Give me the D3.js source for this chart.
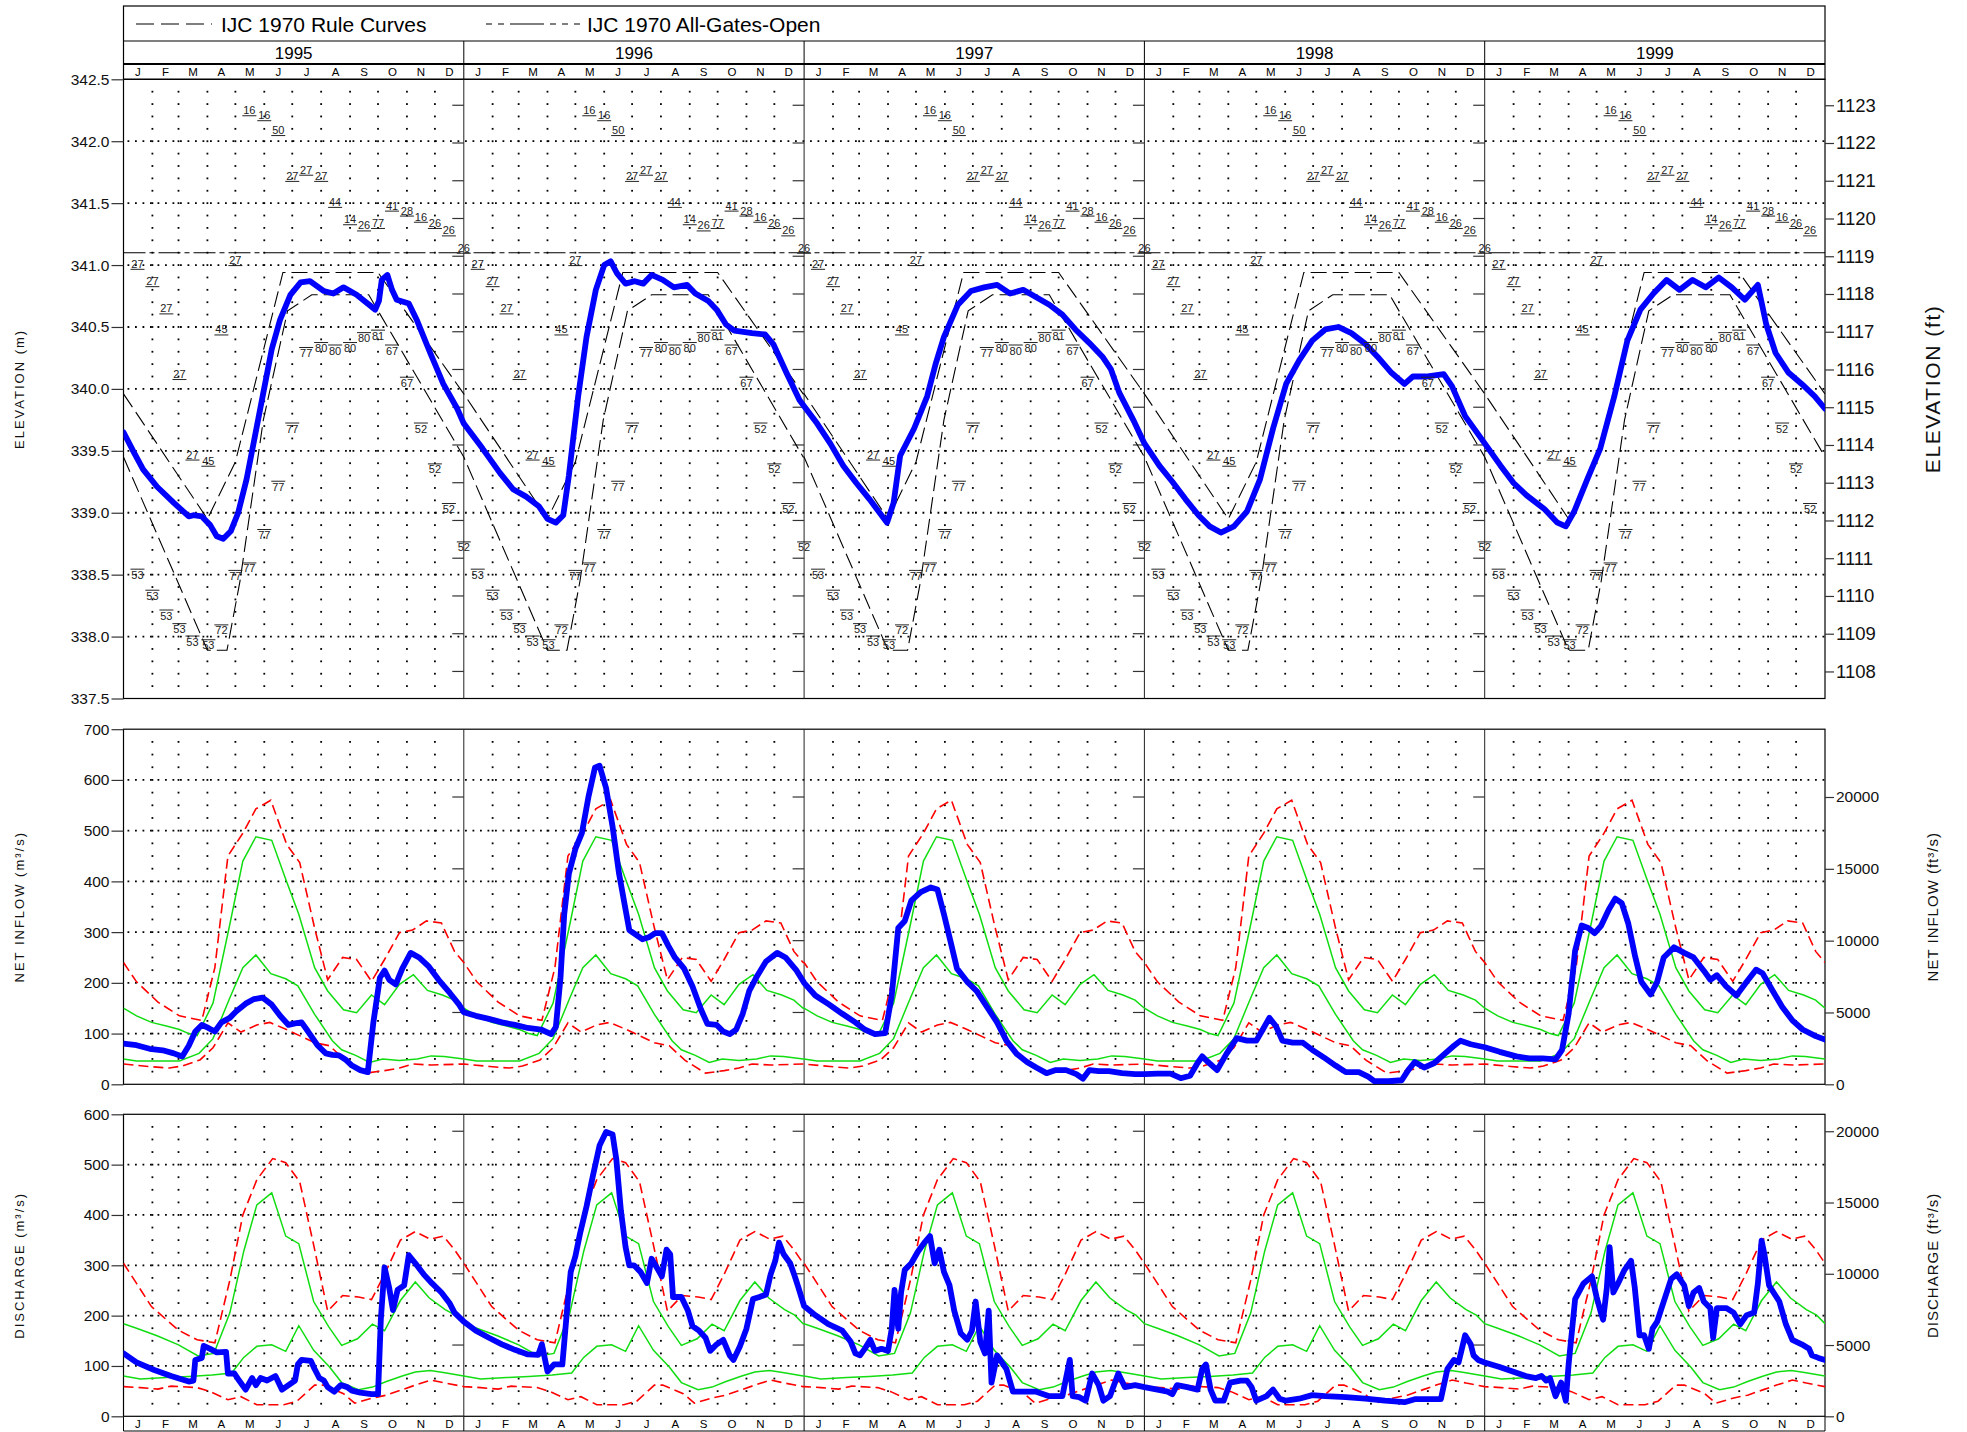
<!DOCTYPE html>
<html>
<head>
<meta charset="utf-8">
<script src="https://cdn.jsdelivr.net/npm/d3@7"></script>
<style>
  body { margin: 0; background: #fff; }
  svg { display: block; font-family: "Liberation Sans", Arial, sans-serif; }
</style>
</head>
<body>
<svg id="chart" width="1967" height="1432"></svg>
<script>
// ---- categories / ticks ----
var years = [1995, 1996, 1997, 1998, 1999];
var monthLetters = ["J", "F", "M", "A", "M", "J", "J", "A", "S", "O", "N", "D"];
var monthStartDays = [0, 31, 59, 90, 120, 151, 181, 212, 243, 273, 304, 334, 365];
var elevTicksM = d3.range(337.5, 342.51, 0.5);
var elevTicksFt = d3.range(1108, 1124);
var inflowTicks = d3.range(0, 701, 100);
var dischargeTicks = d3.range(0, 601, 100);
var cfsTicks = [0, 5000, 10000, 15000, 20000];

// ---- IJC 1970 curves (day of year, elevation m), same every year ----
var ruleUpper = [[0, 339.96], [90, 338.95], [120, 339.41], [171, 340.94], [273, 340.94], [365, 339.96]];
var ruleLower = [[0, 339.45], [90, 337.89], [111, 337.89], [125, 338.45], [150, 339.75], [176, 340.63], [202, 340.76], [263, 340.76], [365, 339.45]];
var allGatesOpen = [[0, 341.1], [365, 341.1]];

// ---- historic extremes (label centre elevation, year of record) ----
var recDays = [0, 15, 31, 46, 60, 74, 91, 105, 120, 135, 151, 166, 181, 196, 212, 227, 243, 258, 273, 288, 304, 319, 334, 349];
var recMaxYear = ["26", "27", "27", "27", "27", "27", "45", "45", "27", "16", "16", "50", "27", "27", "27", "44", "14", "26", "77", "41", "28", "16", "26", "26"];
var recMaxVal = [341.14, 341.01, 340.87, 340.65, 340.12, 339.47, 339.42, 340.48, 341.04, 342.25, 342.21, 342.09, 341.72, 341.77, 341.72, 341.51, 341.37, 341.32, 341.34, 341.48, 341.44, 341.39, 341.34, 341.28];
var recMinYear = ["52", "53", "53", "53", "53", "53", "53", "72", "77", "77", "77", "77", "77", "77", "80", "80", "80", "80", "81", "67", "67", "52", "52", "52"];
var recMinVal = [338.72, 338.50, 338.33, 338.17, 338.06, 337.96, 337.93, 338.05, 338.49, 338.55, 338.82, 339.21, 339.68, 340.29, 340.33, 340.31, 340.33, 340.41, 340.43, 340.31, 340.05, 339.68, 339.35, 339.03];

// ---- reference flow envelopes (day, m3/s), same every year ----
var inflowRedHi = [[0, 240], [14, 202], [37, 162], [60, 135], [84, 126], [98, 230], [112, 450], [128, 495], [142, 543], [158, 560], [175, 473], [189, 437], [205, 308], [219, 206], [235, 250], [250, 246], [266, 203], [280, 246], [296, 299], [310, 304], [325, 322], [341, 318], [355, 262], [365, 240]];
var inflowRedLo = [[0, 40], [28, 35], [49, 32], [63, 36], [82, 48], [96, 72], [112, 121], [126, 103], [143, 117], [157, 122], [176, 107], [190, 95], [205, 82], [221, 76], [238, 47], [260, 22], [280, 27], [296, 32], [310, 40], [330, 38], [365, 40]];
var inflowGreenHi = [[0, 150], [14, 135], [30, 122], [46, 115], [60, 108], [70, 100], [79, 96], [96, 160], [114, 315], [128, 440], [142, 488], [159, 481], [174, 404], [188, 335], [205, 230], [219, 184], [236, 147], [250, 141], [266, 176], [280, 157], [296, 197], [311, 216], [326, 185], [342, 176], [355, 166], [365, 150]];
var inflowGreenLo = [[0, 50], [14, 46], [35, 46], [60, 46], [81, 61], [96, 90], [114, 170], [128, 230], [142, 255], [158, 218], [174, 208], [187, 194], [205, 138], [224, 86], [234, 68], [249, 57], [264, 43], [278, 50], [296, 47], [315, 50], [330, 56], [344, 55], [365, 50]];
var outRedHi = [[0, 304], [14, 264], [30, 218], [59, 171], [79, 152], [98, 146], [114, 270], [128, 400], [143, 470], [160, 512], [174, 504], [189, 466], [204, 340], [219, 209], [235, 240], [252, 237], [266, 232], [280, 282], [297, 350], [313, 367], [329, 352], [343, 358], [355, 331], [365, 304]];
var outRedLo = [[0, 59], [18, 57], [37, 54], [51, 60], [79, 57], [93, 49], [112, 33], [126, 39], [143, 23], [172, 23], [186, 30], [205, 62], [214, 62], [236, 45], [248, 26], [266, 36], [282, 42], [299, 53], [313, 62], [330, 72], [345, 66], [365, 59]];
var outGreenHi = [[0, 184], [14, 175], [36, 160], [59, 142], [80, 120], [97, 125], [114, 205], [129, 328], [143, 420], [159, 444], [174, 358], [188, 343], [204, 228], [220, 178], [234, 141], [251, 154], [267, 183], [280, 170], [297, 230], [313, 267], [328, 235], [345, 212], [356, 201], [365, 184]];
var outGreenLo = [[0, 80], [18, 74], [46, 77], [70, 79], [95, 82], [116, 86], [129, 117], [143, 139], [159, 142], [174, 129], [188, 180], [204, 131], [221, 98], [234, 67], [252, 53], [267, 58], [282, 69], [299, 80], [313, 88], [329, 91], [343, 87], [365, 80]];

// ---- observed elevation (day, m) ----
var elev1995 = [[0, 339.65], [11, 339.49], [21, 339.35], [36, 339.21], [54, 339.08], [70, 338.97], [75, 338.98], [84, 338.97], [93, 338.90], [100, 338.81], [107, 338.79], [115, 338.85], [123, 339.00], [132, 339.27], [141, 339.62], [150, 339.97], [159, 340.32], [168, 340.56], [179, 340.76], [190, 340.86], [200, 340.87], [215, 340.79], [225, 340.77], [236, 340.82], [250, 340.76], [270, 340.64], [274, 340.71], [277, 340.88], [283, 340.92], [288, 340.80], [293, 340.72], [306, 340.69], [315, 340.55], [329, 340.29], [343, 340.04], [358, 339.84]];
var elev1996 = [[0, 339.72], [20, 339.52], [39, 339.32], [53, 339.19], [67, 339.13], [81, 339.05], [90, 338.95], [99, 338.92], [107, 338.98], [113, 339.30], [123, 339.94], [132, 340.42], [142, 340.80], [151, 341.00], [158, 341.03], [165, 340.93], [174, 340.85], [184, 340.87], [193, 340.85], [202, 340.92], [214, 340.88], [226, 340.82], [240, 340.84], [249, 340.77], [263, 340.71], [272, 340.64], [282, 340.52], [291, 340.47], [310, 340.45], [324, 340.44], [333, 340.36], [347, 340.13], [361, 339.91]];
var elev1997 = [[0, 339.86], [14, 339.72], [28, 339.56], [42, 339.38], [56, 339.24], [70, 339.11], [80, 339.01], [89, 338.92], [96, 339.08], [103, 339.46], [118, 339.68], [132, 339.94], [141, 340.20], [150, 340.42], [165, 340.68], [179, 340.79], [193, 340.82], [207, 340.84], [221, 340.77], [235, 340.80], [249, 340.74], [263, 340.68], [277, 340.60], [291, 340.48], [306, 340.37], [320, 340.26], [329, 340.16], [338, 339.97], [353, 339.75]];
var elev1998 = [[0, 339.56], [16, 339.38], [30, 339.25], [44, 339.11], [58, 338.98], [70, 338.89], [82, 338.84], [96, 338.89], [110, 339.01], [124, 339.27], [138, 339.68], [152, 340.04], [166, 340.23], [180, 340.39], [194, 340.48], [208, 340.50], [222, 340.45], [236, 340.37], [250, 340.26], [265, 340.13], [279, 340.04], [288, 340.10], [302, 340.10], [321, 340.12], [330, 340.02], [344, 339.78]];
var elev1999 = [[0, 339.56], [17, 339.38], [31, 339.24], [45, 339.14], [64, 339.03], [78, 338.92], [87, 338.89], [96, 339.01], [110, 339.27], [124, 339.52], [139, 339.94], [153, 340.39], [167, 340.64], [181, 340.77], [195, 340.88], [209, 340.80], [223, 340.88], [237, 340.82], [251, 340.90], [265, 340.82], [279, 340.72], [293, 340.84], [302, 340.52], [312, 340.29], [326, 340.13], [340, 340.04], [354, 339.94], [365, 339.84]];

// ---- observed net inflow (day, m3/s) ----
var inflow1995 = [[0, 80], [14, 77], [28, 70], [42, 67], [54, 61], [63, 55], [70, 76], [77, 104], [84, 117], [91, 111], [98, 104], [105, 122], [114, 131], [121, 144], [131, 159], [140, 168], [149, 171], [159, 157], [168, 135], [177, 117], [184, 120], [191, 122], [198, 104], [208, 77], [217, 61], [224, 58], [231, 57], [238, 49], [245, 37], [254, 28], [262, 24], [268, 122], [275, 210], [280, 224], [285, 206], [292, 197], [299, 228], [308, 259], [317, 250], [327, 233], [338, 206], [350, 180], [360, 157]];
var inflow1996 = [[0, 142], [13, 135], [27, 129], [41, 122], [55, 117], [69, 111], [83, 108], [94, 99], [99, 113], [104, 210], [108, 335], [113, 415], [120, 464], [127, 495], [134, 566], [141, 624], [146, 628], [153, 584], [160, 508], [167, 415], [174, 344], [178, 304], [185, 295], [192, 286], [199, 290], [206, 298], [213, 298], [220, 273], [227, 250], [237, 228], [246, 193], [255, 148], [262, 119], [272, 117], [279, 104], [286, 99], [293, 108], [300, 139], [307, 184], [316, 215], [325, 242], [337, 259], [346, 250], [358, 224]];
var inflow1997 = [[0, 200], [12, 175], [27, 157], [41, 139], [55, 122], [65, 108], [76, 99], [87, 101], [94, 175], [101, 308], [108, 322], [115, 362], [125, 379], [136, 388], [143, 384], [150, 335], [157, 282], [164, 228], [175, 202], [185, 184], [196, 153], [207, 122], [217, 86], [228, 60], [239, 44], [249, 33], [260, 22], [270, 28], [281, 28], [292, 20], [299, 11], [306, 28], [316, 26], [327, 26], [341, 22], [355, 20]];
var inflow1998 = [[0, 20], [14, 21], [28, 21], [39, 12], [49, 17], [57, 42], [62, 55], [67, 46], [78, 28], [88, 60], [99, 91], [110, 86], [120, 86], [127, 108], [134, 131], [141, 115], [148, 86], [159, 82], [170, 82], [180, 68], [194, 51], [205, 37], [216, 24], [230, 24], [240, 15], [247, 6], [262, 6], [276, 8], [283, 28], [290, 44], [300, 33], [311, 42], [322, 60], [332, 76], [339, 86], [350, 79]];
var inflow1999 = [[0, 73], [16, 64], [34, 55], [48, 51], [62, 51], [76, 49], [83, 68], [90, 139], [97, 264], [104, 313], [111, 308], [118, 298], [125, 313], [133, 344], [140, 366], [147, 357], [154, 317], [161, 255], [168, 202], [178, 177], [185, 202], [192, 250], [203, 270], [214, 259], [224, 250], [235, 224], [242, 206], [249, 215], [259, 193], [270, 175], [281, 202], [291, 226], [298, 219], [309, 184], [319, 153], [330, 126], [341, 108], [355, 95], [365, 88]];

// ---- observed discharge (day, m3/s) ----
var out1995 = [[0, 125], [14, 107], [33, 92], [51, 80], [70, 69], [75, 71], [77, 112], [84, 116], [86, 140], [93, 134], [100, 127], [110, 128], [112, 85], [119, 85], [124, 71], [131, 53], [138, 76], [142, 62], [147, 76], [154, 71], [163, 80], [170, 53], [177, 62], [184, 71], [187, 103], [191, 112], [201, 110], [205, 94], [210, 76], [215, 71], [219, 58], [226, 49], [233, 62], [240, 58], [245, 51], [254, 47], [266, 44], [273, 44], [276, 192], [280, 296], [285, 255], [289, 211], [294, 251], [301, 260], [306, 320], [313, 304], [322, 282], [331, 264], [341, 246], [350, 224], [355, 206]];
var out1996 = [[0, 188], [13, 170], [27, 156], [41, 143], [55, 132], [69, 123], [80, 122], [84, 143], [86, 125], [90, 89], [97, 103], [106, 103], [111, 210], [115, 287], [120, 318], [125, 363], [132, 417], [139, 479], [146, 538], [153, 565], [160, 560], [164, 511], [169, 408], [174, 336], [178, 300], [183, 300], [190, 287], [197, 265], [202, 313], [209, 291], [213, 278], [218, 331], [222, 322], [225, 237], [234, 237], [241, 210], [246, 179], [253, 170], [260, 156], [265, 130], [272, 143], [279, 152], [286, 121], [290, 112], [297, 139], [304, 174], [311, 233], [318, 237], [325, 242], [330, 282], [335, 309], [339, 345], [344, 322], [351, 304], [356, 278], [360, 255]];
var out1997 = [[0, 219], [12, 201], [26, 183], [41, 170], [50, 148], [55, 125], [60, 121], [65, 134], [71, 152], [76, 130], [83, 134], [90, 130], [94, 174], [97, 251], [101, 174], [104, 246], [108, 291], [115, 304], [122, 327], [129, 345], [135, 358], [140, 304], [145, 331], [150, 287], [156, 260], [161, 210], [168, 165], [175, 152], [180, 170], [184, 228], [189, 148], [194, 125], [198, 210], [201, 67], [207, 121], [217, 94], [224, 49], [235, 49], [249, 49], [263, 40], [277, 40], [285, 112], [288, 40], [295, 38], [302, 31], [309, 85], [316, 62], [321, 31], [328, 40], [337, 85], [344, 58], [355, 62]];
var out1998 = [[0, 58], [14, 53], [25, 49], [30, 44], [35, 62], [46, 58], [57, 53], [62, 94], [66, 103], [71, 53], [76, 31], [85, 31], [92, 67], [103, 71], [110, 71], [115, 58], [120, 31], [131, 40], [138, 53], [145, 35], [152, 31], [166, 35], [180, 42], [194, 40], [216, 38], [237, 35], [258, 31], [279, 28], [290, 34], [304, 34], [318, 34], [325, 94], [332, 112], [337, 107], [344, 161], [350, 143], [353, 121], [358, 112]];
var out1999 = [[0, 107], [16, 98], [30, 89], [44, 80], [55, 76], [61, 80], [66, 71], [70, 76], [76, 40], [82, 67], [87, 31], [90, 103], [97, 233], [106, 264], [115, 278], [120, 237], [124, 210], [127, 192], [131, 255], [134, 336], [138, 246], [143, 264], [150, 291], [157, 309], [161, 255], [166, 161], [171, 161], [176, 134], [180, 174], [185, 188], [192, 228], [200, 273], [206, 282], [214, 260], [219, 219], [224, 246], [230, 255], [235, 228], [242, 215], [245, 156], [249, 215], [259, 215], [267, 206], [274, 183], [281, 201], [289, 206], [293, 264], [297, 349], [300, 322], [305, 260], [316, 228], [323, 183], [330, 152], [340, 143], [348, 134], [351, 121], [358, 116], [365, 112]];

var elevObs = [elev1995, elev1996, elev1997, elev1998, elev1999];
var inflowObs = [inflow1995, inflow1996, inflow1997, inflow1998, inflow1999];
var outObs = [out1995, out1996, out1997, out1998, out1999];

// ---- layout ----
var svg = d3.select("#chart");
var plotL = 123.5, plotR = 1825;
var headTop = 6, legendBottom = 41, yearBottom = 64, monthBottom = 79.3;
var bottomRowEnd = 1431;
var FT = 0.3048, CFS = 0.0283168;

var x = d3.scaleLinear().domain([1995, 2000]).range([plotL, plotR]);
function tOf(year, day) { return year + day / ((year % 4 === 0) ? 366 : 365); }

var yElev = d3.scaleLinear().domain([337.5, 342.5]).range([698.5, monthBottom]);
var yIn = d3.scaleLinear().domain([0, 700]).range([1084.3, 729.2]);
var yOut = d3.scaleLinear().domain([0, 600]).range([1416.3, 1114.3]);

var panels = [
  { id: "elev", y: yElev, ticks: elevTicksM, fmt: d3.format(".1f"), grid: d3.range(338, 342.01, 0.5), dot: 0.1,
    conv: 1 / FT, rticks: elevTicksFt, rsize: 18.5, ltitle: "ELEVATION (m)", rtitle: "ELEVATION (ft)", rtsize: 21, rls: 1.6 },
  { id: "inflow", y: yIn, ticks: inflowTicks, fmt: d3.format("d"), grid: d3.range(100, 601, 100), dot: 25,
    conv: 1 / CFS, rticks: cfsTicks, rsize: 15.5, ltitle: "NET INFLOW (m\u00b3/s)", rtitle: "NET INFLOW (ft\u00b3/s)", rtsize: 15, rls: 1 },
  { id: "out", y: yOut, ticks: dischargeTicks, fmt: d3.format("d"), grid: d3.range(100, 501, 100), dot: 25,
    conv: 1 / CFS, rticks: cfsTicks, rsize: 15.5, ltitle: "DISCHARGE (m\u00b3/s)", rtitle: "DISCHARGE (ft\u00b3/s)", rtsize: 15, rls: 1 }
];

function series(arrs, perYear) {
  // concatenate yearly arrays into one continuous [t, v] list
  var out = [];
  years.forEach(function (yr, i) {
    var a = perYear ? arrs : arrs[i];
    a.forEach(function (d) { out.push([tOf(yr, d[0]), d[1]]); });
  });
  return out;
}

// ---- header ----
var head = svg.append("g");
head.append("rect").attr("x", plotL).attr("y", headTop).attr("width", plotR - plotL).attr("height", monthBottom - headTop)
  .attr("fill", "none").attr("stroke", "#000").attr("stroke-width", 1.2);
head.append("line").attr("x1", plotL).attr("x2", plotR).attr("y1", legendBottom).attr("y2", legendBottom).attr("stroke", "#000").attr("stroke-width", 1.2);
head.append("line").attr("x1", plotL).attr("x2", plotR).attr("y1", yearBottom).attr("y2", yearBottom).attr("stroke", "#000").attr("stroke-width", 1.8);

// legend
var legY = 24;
head.append("line").attr("x1", 136).attr("x2", 212).attr("y1", legY).attr("y2", legY)
  .attr("stroke", "#000").attr("stroke-width", 1.2).attr("stroke-dasharray", "18,7");
head.append("text").attr("x", 221).attr("y", legY).attr("dominant-baseline", "central").attr("font-size", 21).text("IJC 1970 Rule Curves");
head.append("line").attr("x1", 486).attr("x2", 580).attr("y1", legY).attr("y2", legY)
  .attr("stroke", "#000").attr("stroke-width", 1.2).attr("stroke-dasharray", "6,6,6,6,34,6,6,6,6,6");
head.append("text").attr("x", 587).attr("y", legY).attr("dominant-baseline", "central").attr("font-size", 21).text("IJC 1970 All-Gates-Open");

// year labels and month letters
years.forEach(function (yr) {
  head.append("text").attr("x", x(yr + 0.5)).attr("y", (legendBottom + yearBottom) / 2 + 1)
    .attr("text-anchor", "middle").attr("dominant-baseline", "central").attr("font-size", 17).text(yr);
  monthLetters.forEach(function (m, i) {
    var mid = tOf(yr, (monthStartDays[i] + monthStartDays[i + 1]) / 2);
    [(yearBottom + monthBottom) / 2, (1416.3 + bottomRowEnd) / 2].forEach(function (yy) {
      svg.append("text").attr("x", x(mid)).attr("y", yy + 0.5).attr("text-anchor", "middle")
        .attr("dominant-baseline", "central").attr("font-size", 11.5).text(m);
    });
  });
});

// bottom month row frame
svg.append("line").attr("x1", plotL).attr("x2", plotL).attr("y1", 1416.3).attr("y2", bottomRowEnd).attr("stroke", "#000");
svg.append("line").attr("x1", plotR).attr("x2", plotR).attr("y1", 1416.3).attr("y2", bottomRowEnd).attr("stroke", "#000");
svg.append("line").attr("x1", plotL).attr("x2", plotR).attr("y1", bottomRowEnd).attr("y2", bottomRowEnd).attr("stroke", "#000");

// year dividers in header and bottom row
years.slice(1).forEach(function (yr) {
  head.append("line").attr("x1", x(yr)).attr("x2", x(yr)).attr("y1", legendBottom).attr("y2", monthBottom).attr("stroke", "#000").attr("stroke-width", 1);
  svg.append("line").attr("x1", x(yr)).attr("x2", x(yr)).attr("y1", 1416.3).attr("y2", bottomRowEnd).attr("stroke", "#000").attr("stroke-width", 1);
});

// ---- panels ----
panels.forEach(function (p) {
  var y = p.y, top = y.range()[1], bot = y.range()[0];
  var g = svg.append("g");
  var clipId = "clip-" + p.id;
  svg.append("clipPath").attr("id", clipId).append("rect")
    .attr("x", plotL).attr("y", top).attr("width", plotR - plotL).attr("height", bot - top);

  // horizontal dotted grid
  g.selectAll(".hg").data(p.grid).join("line")
    .attr("x1", plotL + 4).attr("x2", plotR).attr("y1", function (d) { return y(d); }).attr("y2", function (d) { return y(d); })
    .attr("stroke", "#000").attr("stroke-width", 1.8).attr("stroke-dasharray", "1.8,5.7");

  // vertical dotted grid at month boundaries
  var dom = y.domain(), dots = [];
  var vals = d3.range(dom[0] + p.dot, dom[1] - p.dot / 2, p.dot);
  years.forEach(function (yr) {
    for (var m = 1; m < 12; m++) {
      vals.forEach(function (v) { dots.push([tOf(yr, monthStartDays[m]), v]); });
    }
  });
  g.selectAll(".vd").data(dots).join("rect")
    .attr("x", function (d) { return x(d[0]) - 0.9; }).attr("y", function (d) { return y(d[1]) - 0.9; })
    .attr("width", 1.8).attr("height", 1.8).attr("fill", "#000");

  // frame and year dividers
  g.append("rect").attr("x", plotL).attr("y", top).attr("width", plotR - plotL).attr("height", bot - top)
    .attr("fill", "none").attr("stroke", "#000").attr("stroke-width", 1.2);
  years.slice(1).forEach(function (yr) {
    g.append("line").attr("x1", x(yr)).attr("x2", x(yr)).attr("y1", top).attr("y2", bot).attr("stroke", "#222").attr("stroke-width", 1);
  });

  // left axis
  var la = svg.append("g").attr("transform", "translate(" + plotL + ",0)")
    .call(d3.axisLeft(y).tickValues(p.ticks).tickFormat(p.fmt).tickSize(12).tickPadding(2));
  la.select(".domain").remove();
  la.selectAll("line").attr("stroke", "#333").attr("stroke-width", 1.2);
  la.selectAll("text").attr("font-size", 15.5).attr("font-family", "Liberation Sans, Arial, sans-serif").attr("fill", "#111");

  // right axis (imperial) + inner ticks at each year end
  var yr2 = d3.scaleLinear().domain([dom[0] * p.conv, dom[1] * p.conv]).range(y.range());
  var ra = svg.append("g").attr("transform", "translate(" + plotR + ",0)")
    .call(d3.axisRight(yr2).tickValues(p.rticks).tickFormat(d3.format("d")).tickSize(9).tickPadding(2));
  ra.select(".domain").remove();
  ra.selectAll("line").attr("stroke", "#333").attr("stroke-width", 1.2);
  ra.selectAll("text").attr("font-size", p.rsize).attr("font-family", "Liberation Sans, Arial, sans-serif").attr("fill", "#111");
  years.slice(1).forEach(function (yr) {
    g.selectAll(null).data(p.rticks).join("line")
      .attr("x1", x(yr) - 11.5).attr("x2", x(yr))
      .attr("y1", function (d) { return yr2(d); }).attr("y2", function (d) { return yr2(d); })
      .attr("stroke", "#333").attr("stroke-width", 1.2);
  });

  // axis titles
  var cy = (top + bot) / 2;
  svg.append("text").attr("transform", "translate(19," + cy + ") rotate(-90)")
    .attr("text-anchor", "middle").attr("dominant-baseline", "central")
    .attr("font-size", 13).attr("letter-spacing", 2).attr("fill", "#111").text(p.ltitle);
  svg.append("text").attr("transform", "translate(1932," + cy + ") rotate(-90)")
    .attr("text-anchor", "middle").attr("dominant-baseline", "central")
    .attr("font-size", p.rtsize).attr("letter-spacing", p.rls).attr("fill", "#111").text(p.rtitle);

  p.g = svg.append("g").attr("clip-path", "url(#" + clipId + ")");
});

var lineGen = function (y) {
  return d3.line().x(function (d) { return x(d[0]); }).y(function (d) { return y(d[1]); });
};

// ---- elevation panel content ----
var ge = panels[0].g;
ge.append("path").attr("d", lineGen(yElev)(series(allGatesOpen, true)))
  .attr("fill", "none").attr("stroke", "#000").attr("stroke-width", 1.1).attr("stroke-dasharray", "22,4,5,4");
[ruleUpper, ruleLower].forEach(function (c) {
  ge.append("path").attr("d", lineGen(yElev)(series(c, true)))
    .attr("fill", "none").attr("stroke", "#000").attr("stroke-width", 1.1).attr("stroke-dasharray", "16,6");
});

// record labels
var recs = [];
years.forEach(function (yr) {
  recDays.forEach(function (dd, i) {
    if (i === 0 && yr === 1995) return;
    recs.push({ t: tOf(yr, dd), v: recMaxVal[i], s: recMaxYear[i], hi: true });
    recs.push({ t: tOf(yr, dd), v: recMinVal[i], s: recMinYear[i], hi: false });
  });
});
var rg = svg.append("g");
rg.selectAll("text").data(recs).join("text")
  .attr("x", function (d) { return x(d.t); }).attr("y", function (d) { return yElev(d.v); })
  .attr("text-anchor", "middle").attr("dominant-baseline", "central")
  .attr("font-size", 11).attr("fill", "#222").text(function (d) { return d.s; });
rg.selectAll("line").data(recs).join("line")
  .attr("x1", function (d) { return x(d.t) - 7; }).attr("x2", function (d) { return x(d.t) + 7; })
  .attr("y1", function (d) { return yElev(d.v) + (d.hi ? 5.5 : -5.5); })
  .attr("y2", function (d) { return yElev(d.v) + (d.hi ? 5.5 : -5.5); })
  .attr("stroke", "#222").attr("stroke-width", 1);

// ---- flow reference envelopes ----
function envelopes(g, y, redHi, redLo, greenHi, greenLo) {
  [greenHi, greenLo].forEach(function (c) {
    g.append("path").attr("d", lineGen(y)(series(c, true)))
      .attr("fill", "none").attr("stroke", "#11dd11").attr("stroke-width", 1.5);
  });
  [redHi, redLo].forEach(function (c) {
    g.append("path").attr("d", lineGen(y)(series(c, true)))
      .attr("fill", "none").attr("stroke", "#ff0000").attr("stroke-width", 1.6).attr("stroke-dasharray", "10,5");
  });
}
envelopes(panels[1].g, yIn, inflowRedHi, inflowRedLo, inflowGreenHi, inflowGreenLo);
envelopes(panels[2].g, yOut, outRedHi, outRedLo, outGreenHi, outGreenLo);

// ---- observed series ----
[[panels[0].g, yElev, elevObs], [panels[1].g, yIn, inflowObs], [panels[2].g, yOut, outObs]].forEach(function (s) {
  s[0].append("path").attr("d", lineGen(s[1])(series(s[2], false)))
    .attr("fill", "none").attr("stroke", "#0000ff").attr("stroke-width", 5.8)
    .attr("stroke-linejoin", "round").attr("stroke-linecap", "round");
});
</script>
</body>
</html>
